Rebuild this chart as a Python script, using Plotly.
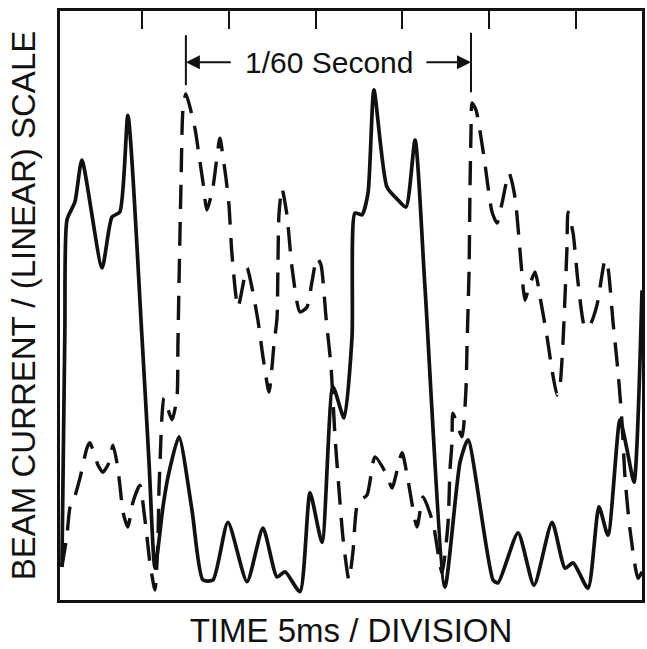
import plotly.graph_objects as go

# ---- data (time in ms, beam current in arbitrary linear units) ----
solid_time = [-4.61, -4.44, -4.32, -3.86, -3.46, -2.30, -1.73, -1.27, -0.81, 0.00, 0.40,
              0.75, 1.21, 1.50, 2.13, 2.88, 3.51, 4.09, 4.95, 6.05, 6.97, 7.78, 8.24,
              9.10, 9.68, 10.37, 11.00, 11.64, 12.10, 12.27, 12.67, 13.02, 13.36, 14.11,
              14.75, 15.21, 15.73, 16.30, 17.45, 18.32, 18.78, 20.22, 20.51, 21.66, 22.58,
              23.62, 24.37, 24.83, 25.69, 26.32, 26.84, 27.53, 27.94, 28.34, 28.80]
solid_current = [5.6, 45.8, 64.5, 67.6, 74.7, 56.4, 65.0, 65.9, 82.3, 44.7, 23.8,
                 5.4, 15.8, 20.9, 27.7, 15.3, 3.4, 3.4, 13.2, 3.1, 12.2, 3.9, 4.8,
                 1.4, 18.2, 9.8, 36.2, 30.9, 44.7, 65.7, 65.4, 69.1, 86.6, 70.1,
                 67.9, 66.7, 78.1, 53.1, 2.2, 23.4, 27.2, 3.4, 2.9, 11.4, 2.5,
                 13.2, 5.4, 6.3, 2.0, 15.8, 11.0, 30.6, 25.5, 20.0, 52.6]

dashed_time = [-4.61, -4.32, -4.15, -3.97, -3.57, -3.17, -3.00, -2.53, -2.25, -1.90, -1.67,
               -1.44, -1.27, -1.09, -0.81, -0.52, -0.12, 0.12, 0.29, 0.46, 0.75, 0.92,
               0.98, 1.04, 1.15, 1.27, 1.73, 2.02, 2.07, 2.13, 2.19, 2.25, 2.36, 2.53,
               3.05, 3.28, 3.51, 3.74, 4.09, 4.49, 4.67, 4.84, 5.01, 5.18, 5.53, 6.05,
               6.34, 6.68, 6.97, 7.32, 7.60, 7.78, 7.83, 7.89, 8.06, 8.35, 8.64, 9.10,
               9.50, 9.79, 10.08, 10.31, 10.60, 10.89, 11.12, 11.35, 11.58, 11.92, 12.15,
               12.44, 12.96, 13.42, 14.11, 14.40, 14.98, 15.32, 15.84, 16.19, 16.76, 17.28,
               17.63, 17.74, 17.86, 17.91, 18.43, 18.66, 18.72, 18.84, 18.89, 18.95, 19.01,
               19.24, 19.70, 20.16, 20.45, 20.74, 21.14, 21.49, 21.77, 22.06, 22.24, 22.64,
               22.93, 23.33, 23.62, 23.91, 24.08, 24.25, 24.37, 24.48, 24.54, 24.83, 25.12,
               25.52, 25.81, 26.21, 26.67, 26.84, 27.13, 27.42, 27.65, 27.82, 28.11, 28.57,
               28.80]
dashed_current = [5.6, 11.0, 15.6, 16.6, 20.7, 25.8, 26.7, 22.9, 21.7, 23.3, 26.3,
                  23.3, 19.5, 14.9, 12.4, 16.6, 19.5, 14.9, 10.7, 6.3, 1.7, 10.2,
                  18.7, 23.3, 31.1, 34.3, 30.6, 34.5, 43.0, 53.1, 62.3, 70.8, 83.2, 85.9,
                  80.1, 75.6, 71.0, 66.2, 70.1, 78.4, 75.2, 71.6, 67.1, 58.9, 49.7, 56.4,
                  53.0, 47.5, 41.3, 35.3, 43.3, 47.9, 56.4, 65.4, 69.9, 65.4, 56.5, 48.9,
                  49.7, 54.0, 58.1, 56.9, 48.0, 39.6, 27.7, 18.7, 10.5, 3.4, 8.1,
                  16.6, 17.8, 24.3, 21.2, 19.0, 25.0, 20.4, 12.4, 17.5, 13.1, 4.6,
                  13.1, 22.1, 26.8, 31.7, 27.7, 35.7, 42.8, 56.0, 69.1, 79.3, 84.4,
                  83.2, 75.2, 65.9, 64.0, 67.4, 72.5, 68.3, 59.4, 50.9, 52.6, 55.7,
                  51.4, 44.7, 39.0, 34.8, 36.5, 43.8, 51.8, 59.9, 65.9, 62.3, 53.8,
                  46.2, 46.7, 50.1, 57.7, 56.4, 47.2, 38.7, 30.1, 20.9, 11.9, 3.7,
                  4.8]

division_ticks_ms = [0, 5, 10, 15, 20, 25]
period_marker_ms = [2.53, 18.95]
period_label = "1/60 Second"
x_title = "TIME 5ms / DIVISION"
y_title = "BEAM CURRENT / (LINEAR) SCALE"

INK = "#111111"
FONT = "Liberation Sans, Arial, sans-serif"

fig = go.Figure()
fig.add_trace(go.Scatter(x=dashed_time, y=dashed_current, mode="lines",
                         line=dict(color=INK, width=3.4, dash="24px,13px",
                                   shape="spline", smoothing=0.6),
                         showlegend=False, hoverinfo="skip"))
fig.add_trace(go.Scatter(x=solid_time, y=solid_current, mode="lines",
                         line=dict(color=INK, width=3.7, shape="spline", smoothing=0.6),
                         showlegend=False, hoverinfo="skip"))
# invisible trace that activates the top tick axis
fig.add_trace(go.Scatter(x=[division_ticks_ms[0]], y=[0], xaxis="x2", mode="markers",
                         marker=dict(opacity=0), showlegend=False, hoverinfo="skip"))

xr = [-4.72, 28.80]
fig.update_layout(
    width=647, height=649,
    margin=dict(l=60, r=5, t=11, b=49, autoexpand=False),
    paper_bgcolor="white", plot_bgcolor="white",
    font=dict(family=FONT, color=INK),
    xaxis=dict(range=xr, showgrid=False, zeroline=False, showline=True, linecolor=INK,
               linewidth=3, mirror=True, ticks="", showticklabels=False, automargin=False,
               title=dict(text=x_title, font=dict(size=33, family=FONT, color=INK), standoff=21)),
    xaxis2=dict(range=xr, overlaying="x", side="top", showgrid=False, zeroline=False,
                showline=False, tickmode="array", tickvals=division_ticks_ms,
                ticks="inside", ticklen=18, tickwidth=2, tickcolor=INK,
                showticklabels=False, automargin=False),
    yaxis=dict(range=[0, 100], showgrid=False, zeroline=False, showline=True, linecolor=INK,
               linewidth=3, mirror=True, ticks="", showticklabels=False, automargin=False,
               title=dict(text=y_title, font=dict(size=33, family=FONT, color=INK), standoff=12)),
)

label_y = 91.3
for xm, (y0, y1) in zip(period_marker_ms, [(87.4, 95.9), (86.2, 96.3)]):
    fig.add_shape(type="line", x0=xm, x1=xm, y0=y0, y1=y1, xref="x", yref="y",
                  line=dict(color=INK, width=2))
fig.add_annotation(x=10.76, y=label_y, text=period_label, showarrow=False,
                   font=dict(size=30, family=FONT, color=INK))
fig.add_annotation(x=period_marker_ms[0], y=label_y, ax=5.2, ay=label_y, axref="x", ayref="y",
                   text="", showarrow=True, arrowhead=2, arrowsize=1.4, arrowwidth=2,
                   arrowcolor=INK)
fig.add_annotation(x=period_marker_ms[1], y=label_y, ax=16.3, ay=label_y, axref="x", ayref="y",
                   text="", showarrow=True, arrowhead=2, arrowsize=1.4, arrowwidth=2,
                   arrowcolor=INK)

fig.write_html("out.html", config={"displayModeBar": False},
               post_script="document.body.style.margin='0';document.body.style.overflow='hidden';")
